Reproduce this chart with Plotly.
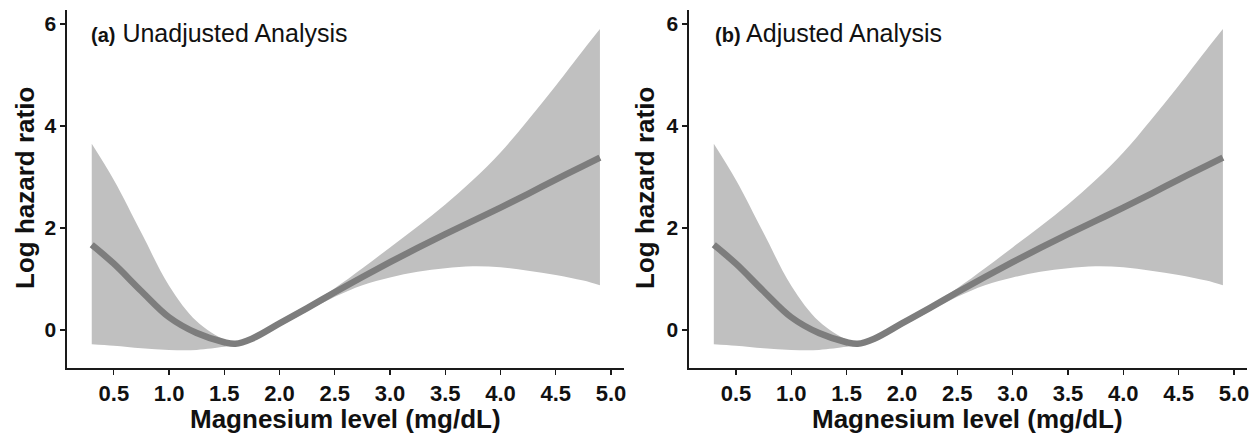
import plotly.graph_objects as go

# Data (restricted cubic spline, log hazard ratio)
mg_level = [0.3, 0.5, 0.75, 1.0, 1.25, 1.5, 1.6, 1.75, 2.0, 2.25, 2.5, 2.75,
            3.0, 3.25, 3.5, 3.75, 4.0, 4.25, 4.5, 4.75, 4.9]

unadj_est = [1.67, 1.30, 0.76, 0.25, -0.06, -0.24, -0.27, -0.17, 0.13, 0.43, 0.74, 1.04,
             1.33, 1.61, 1.88, 2.14, 2.40, 2.67, 2.95, 3.22, 3.38]
unadj_upper = [3.65, 2.94, 1.90, 0.87, 0.17, -0.19, -0.25, -0.14, 0.18, 0.48, 0.82, 1.21,
               1.62, 2.03, 2.46, 2.94, 3.48, 4.12, 4.79, 5.49, 5.90]
unadj_lower = [-0.28, -0.31, -0.36, -0.39, -0.39, -0.33, -0.30, -0.21, 0.07, 0.37, 0.65, 0.88,
               1.03, 1.14, 1.21, 1.25, 1.23, 1.16, 1.08, 0.97, 0.88]

adj_est = [1.67, 1.30, 0.76, 0.25, -0.06, -0.24, -0.27, -0.17, 0.13, 0.43, 0.74, 1.04,
           1.33, 1.61, 1.88, 2.14, 2.40, 2.67, 2.95, 3.22, 3.38]
adj_upper = [3.65, 2.94, 1.90, 0.87, 0.17, -0.19, -0.25, -0.14, 0.18, 0.48, 0.82, 1.21,
             1.62, 2.03, 2.46, 2.94, 3.48, 4.12, 4.79, 5.49, 5.90]
adj_lower = [-0.28, -0.31, -0.36, -0.39, -0.39, -0.33, -0.30, -0.21, 0.07, 0.37, 0.65, 0.88,
             1.03, 1.14, 1.21, 1.25, 1.23, 1.16, 1.08, 0.97, 0.88]

x_ticks = [0.5, 1.0, 1.5, 2.0, 2.5, 3.0, 3.5, 4.0, 4.5, 5.0]
x_tick_labels = ["0.5", "1.0", "1.5", "2.0", "2.5", "3.0", "3.5", "4.0", "4.5", "5.0"]
y_ticks = [0, 2, 4, 6]
y_tick_labels = ["0", "2", "4", "6"]

panel_titles = ["(a)", "(b)"]
panel_names = ["Unadjusted Analysis", "Adjusted Analysis"]
x_title = "Magnesium level (mg/dL)"
y_title = "Log hazard ratio"

W, H = 1260, 433
FONT = "Liberation Sans, Arial, sans-serif"
BAND = "#c0c0c0"
LINE = "#7d7d7d"

fig = go.Figure()

panels = [
    ("x", "y", unadj_est, unadj_upper, unadj_lower),
    ("x2", "y2", adj_est, adj_upper, adj_lower),
]
for xa, ya, est, up, lo in panels:
    fig.add_trace(go.Scatter(x=mg_level, y=lo, xaxis=xa, yaxis=ya, mode="lines",
                             line=dict(width=0, color=BAND, shape="spline"),
                             showlegend=False, hoverinfo="skip"))
    fig.add_trace(go.Scatter(x=mg_level, y=up, xaxis=xa, yaxis=ya, mode="lines",
                             line=dict(width=0, color=BAND, shape="spline"),
                             fill="tonexty", fillcolor=BAND,
                             showlegend=False, hoverinfo="skip"))
    fig.add_trace(go.Scatter(x=mg_level, y=est, xaxis=xa, yaxis=ya, mode="lines",
                             line=dict(width=6.5, color=LINE, shape="spline"),
                             showlegend=False))

y_dom = [1 - 368 / H, 1 - 10 / H]
x_range = [0.075, 5.118]
y_range = [-0.745, 6.275]

axis_common = dict(showgrid=False, zeroline=False, showline=True, linecolor="#1a1a1a",
                   linewidth=1.5, ticks="outside", ticklen=5, tickwidth=1.2,
                   tickcolor="#1a1a1a", mirror=False, fixedrange=True)

xfont = dict(family=FONT, size=22, color="#111", weight="bold")
yfont = dict(family=FONT, size=21, color="#111", weight="bold")

fig.update_layout(
    width=W, height=H,
    margin=dict(l=0, r=0, t=0, b=0),
    paper_bgcolor="white", plot_bgcolor="white",
    xaxis=dict(domain=[67 / W, 625 / W], range=x_range, anchor="y",
               tickvals=x_ticks, ticktext=x_tick_labels, tickfont=xfont, **axis_common),
    yaxis=dict(domain=y_dom, range=y_range, anchor="x",
               tickvals=y_ticks, ticktext=y_tick_labels, tickfont=yfont, **axis_common),
    xaxis2=dict(domain=[690 / W, 1249 / W], range=x_range, anchor="y2",
                tickvals=x_ticks, ticktext=x_tick_labels, tickfont=xfont, **axis_common),
    yaxis2=dict(domain=y_dom, range=y_range, anchor="x2",
                tickvals=y_ticks, ticktext=y_tick_labels, tickfont=yfont, **axis_common),
)

title_font = dict(family=FONT, size=26, color="#111", weight="bold")
annotations = []
for xc, ytc in [(346, 25), (969, 646)]:
    annotations.append(dict(text=x_title, xref="paper", yref="paper",
                            x=xc / W, y=1 - 419 / H, xanchor="center", yanchor="middle",
                            showarrow=False, font=title_font))
    annotations.append(dict(text=y_title, xref="paper", yref="paper",
                            x=ytc / W, y=1 - 188 / H, xanchor="center", yanchor="middle",
                            textangle=-90, showarrow=False, font=title_font))
for xs, tag, name in zip([89, 714], panel_titles, panel_names):
    annotations.append(dict(
        text=f"<b><span style='font-size:20px'>{tag}</span></b> {name}",
        xref="paper", yref="paper", x=xs / W, y=1 - 33 / H,
        xanchor="left", yanchor="middle", showarrow=False,
        font=dict(family=FONT, size=25, color="#111")))
fig.update_layout(annotations=annotations)

fig.write_html("out.html",
               config={"displayModeBar": False, "staticPlot": True},
               post_script="document.body.style.margin='0px';document.body.style.overflow='hidden';")
